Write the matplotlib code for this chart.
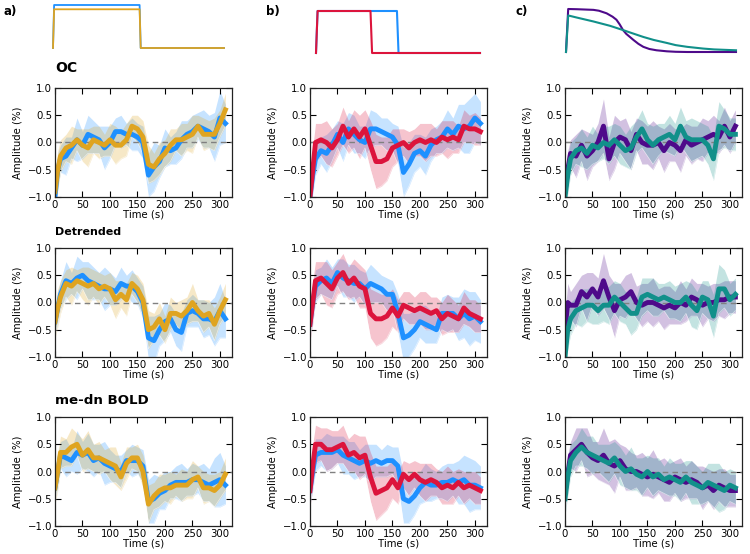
import matplotlib
matplotlib.use("Agg")
import matplotlib.pyplot as plt

# ---------------- data ----------------
T = [0, 5, 10, 20, 30, 40, 50, 60, 70, 80, 90, 100, 110, 120, 130, 140, 150, 160,
     170, 180, 190, 200, 210, 220, 230, 240, 250, 260, 270, 280, 290, 300, 310]

a_oc_blue = [-1.0, -0.5, -0.3, -0.25, -0.1, 0.05, -0.05, 0.15, 0.1, 0.05, -0.1, 0.0, 0.2, 0.2, 0.15, 0.15, 0.1, 0.0, -0.6, -0.45, -0.35, -0.1, -0.15, -0.1, 0.05, 0.15, 0.2, 0.3, 0.25, 0.2, 0.1, 0.45, 0.35]
a_oc_orange = [-0.9, -0.5, -0.25, -0.1, -0.05, 0.05, -0.05, -0.1, 0.05, 0.0, -0.05, 0.05, -0.05, -0.05, 0.05, 0.3, 0.25, 0.1, -0.4, -0.45, -0.3, -0.2, -0.05, 0.05, 0.05, 0.1, 0.15, 0.3, 0.15, 0.15, 0.15, 0.35, 0.6]
a_dt_blue = [-0.35, -0.1, 0.15, 0.4, 0.35, 0.45, 0.5, 0.4, 0.35, 0.3, 0.25, 0.25, 0.2, 0.35, 0.3, 0.3, 0.2, 0.0, -0.65, -0.7, -0.5, -0.35, -0.3, -0.5, -0.55, -0.2, -0.15, -0.2, -0.3, -0.3, -0.35, -0.15, -0.3]
a_dt_orange = [-0.35, -0.1, 0.1, 0.35, 0.3, 0.4, 0.35, 0.3, 0.35, 0.25, 0.3, 0.25, 0.05, 0.15, 0.05, 0.35, 0.25, 0.05, -0.5, -0.45, -0.3, -0.5, -0.2, -0.2, -0.25, -0.15, 0.0, -0.15, -0.25, -0.2, -0.4, -0.15, 0.05]
a_me_blue = [-0.3, 0.0, 0.3, 0.25, 0.2, 0.35, 0.3, 0.35, 0.2, 0.25, 0.15, 0.1, 0.05, 0.0, 0.2, 0.2, 0.2, 0.1, -0.55, -0.5, -0.4, -0.35, -0.25, -0.2, -0.2, -0.2, -0.15, -0.15, -0.2, -0.25, -0.2, -0.15, -0.25]
a_me_orange = [-0.3, 0.0, 0.35, 0.35, 0.45, 0.5, 0.3, 0.4, 0.25, 0.25, 0.2, 0.15, 0.1, -0.1, 0.15, 0.25, 0.25, 0.0, -0.6, -0.45, -0.35, -0.3, -0.3, -0.25, -0.25, -0.25, -0.15, -0.1, -0.3, -0.3, -0.35, -0.25, -0.05]

b_oc_blue = [-1.0, -0.6, -0.3, -0.15, -0.2, -0.05, 0.15, 0.0, 0.25, 0.15, 0.05, 0.0, 0.25, 0.25, 0.2, 0.15, 0.1, -0.05, -0.55, -0.4, -0.2, -0.15, -0.25, -0.05, 0.05, 0.1, 0.25, 0.15, 0.3, 0.25, 0.3, 0.45, 0.35]
b_oc_red = [-1.0, -0.5, 0.0, 0.05, 0.0, -0.1, 0.05, 0.3, 0.1, 0.25, 0.1, 0.25, -0.05, -0.35, -0.35, -0.3, -0.1, -0.05, 0.0, -0.1, 0.0, 0.05, 0.0, 0.05, 0.0, 0.1, 0.05, 0.1, 0.05, 0.3, 0.25, 0.25, 0.2]
b_dt_blue = [-0.4, 0.0, 0.3, 0.4, 0.45, 0.35, 0.55, 0.45, 0.4, 0.35, 0.35, 0.25, 0.35, 0.3, 0.25, 0.15, 0.15, -0.2, -0.65, -0.6, -0.5, -0.35, -0.4, -0.45, -0.5, -0.2, -0.2, -0.2, -0.3, -0.2, -0.3, -0.25, -0.35]
b_dt_red = [-0.4, 0.0, 0.4, 0.45, 0.35, 0.25, 0.45, 0.55, 0.35, 0.45, 0.3, 0.25, -0.2, -0.3, -0.3, -0.25, -0.1, -0.25, -0.05, -0.1, -0.15, -0.1, -0.15, -0.2, -0.15, -0.3, -0.2, -0.25, -0.3, -0.1, -0.2, -0.25, -0.3]
b_me_blue = [-0.35, 0.0, 0.3, 0.35, 0.35, 0.35, 0.4, 0.3, 0.25, 0.2, 0.15, 0.2, 0.15, 0.2, 0.15, 0.2, 0.2, 0.1, -0.5, -0.55, -0.45, -0.3, -0.2, -0.25, -0.25, -0.2, -0.2, -0.15, -0.2, -0.15, -0.25, -0.25, -0.3]
b_me_red = [-0.35, 0.1, 0.5, 0.5, 0.4, 0.4, 0.45, 0.5, 0.3, 0.35, 0.25, 0.3, -0.1, -0.4, -0.35, -0.3, -0.15, -0.3, -0.05, -0.15, -0.05, -0.15, -0.2, -0.15, -0.2, -0.3, -0.25, -0.3, -0.2, -0.3, -0.25, -0.3, -0.35]

c_oc_purple = [-0.9, -0.5, -0.2, -0.25, -0.05, -0.25, -0.15, 0.0, 0.3, -0.3, 0.0, 0.1, 0.05, -0.15, 0.15, 0.0, -0.05, -0.05, 0.0, -0.15, 0.0, -0.05, -0.15, 0.05, -0.05, 0.0, 0.05, 0.1, 0.15, 0.1, 0.3, 0.1, 0.3]
c_oc_teal = [-1.0, -0.6, -0.3, -0.15, -0.1, -0.2, -0.05, -0.1, 0.0, -0.05, 0.05, -0.05, -0.15, -0.1, 0.1, 0.25, 0.05, -0.05, 0.05, 0.1, 0.15, 0.05, 0.3, 0.1, 0.05, 0.05, 0.05, -0.05, -0.3, 0.3, 0.25, 0.15, 0.15]
c_dt_purple = [-0.5, 0.0, -0.05, -0.05, 0.2, 0.1, 0.25, 0.1, 0.4, 0.1, -0.15, 0.05, 0.1, 0.2, 0.0, -0.05, 0.0, 0.0, -0.05, -0.1, -0.05, -0.1, 0.0, -0.05, 0.1, 0.05, -0.05, 0.0, 0.0, 0.05, 0.05, 0.1, 0.1]
c_dt_teal = [-1.0, -0.5, -0.3, -0.15, -0.1, -0.05, -0.05, -0.15, -0.05, -0.05, 0.1, 0.0, -0.1, -0.2, -0.2, 0.1, 0.15, 0.1, 0.05, 0.1, 0.05, 0.0, 0.0, 0.1, -0.05, -0.15, 0.1, 0.05, -0.25, 0.25, 0.25, 0.05, 0.15]
c_me_purple = [-0.4, -0.05, 0.3, 0.4, 0.5, 0.35, 0.25, 0.2, 0.3, 0.15, 0.1, 0.2, 0.05, 0.0, 0.0, -0.05, -0.1, -0.05, -0.1, -0.15, -0.2, -0.1, -0.15, -0.2, -0.15, -0.2, -0.3, -0.25, -0.35, -0.25, -0.3, -0.35, -0.35]
c_me_teal = [-0.5, -0.1, 0.2, 0.35, 0.45, 0.35, 0.3, 0.25, 0.2, 0.15, 0.25, 0.1, 0.0, 0.05, -0.05, -0.1, 0.0, -0.1, -0.05, -0.15, -0.1, -0.15, -0.2, -0.1, -0.2, -0.25, -0.3, -0.2, -0.25, -0.3, -0.35, -0.25, -0.3]

# half-widths of the shaded spread bands
band_a_blue = [0.2, 0.3, 0.25, 0.35, 0.2, 0.4, 0.25, 0.35, 0.3, 0.25, 0.4, 0.3, 0.25, 0.3, 0.2, 0.3, 0.25, 0.3, 0.4, 0.45, 0.3, 0.35, 0.25, 0.3, 0.35, 0.25, 0.3, 0.25, 0.35, 0.3, 0.45, 0.5, 0.35]
band_a_orange = [0.3, 0.35, 0.3, 0.25, 0.35, 0.2, 0.3, 0.35, 0.25, 0.3, 0.2, 0.3, 0.35, 0.25, 0.3, 0.2, 0.25, 0.3, 0.35, 0.25, 0.3, 0.25, 0.3, 0.2, 0.3, 0.25, 0.35, 0.2, 0.3, 0.25, 0.3, 0.25, 0.3]
band_b_blue = [0.25, 0.35, 0.3, 0.25, 0.35, 0.3, 0.25, 0.35, 0.3, 0.35, 0.25, 0.3, 0.35, 0.3, 0.25, 0.3, 0.25, 0.35, 0.45, 0.4, 0.35, 0.3, 0.35, 0.3, 0.25, 0.3, 0.35, 0.3, 0.4, 0.45, 0.5, 0.45, 0.4]
band_b_red = [0.3, 0.4, 0.35, 0.3, 0.4, 0.35, 0.3, 0.35, 0.3, 0.35, 0.4, 0.35, 0.45, 0.5, 0.45, 0.4, 0.35, 0.3, 0.25, 0.3, 0.25, 0.3, 0.35, 0.3, 0.25, 0.3, 0.35, 0.3, 0.25, 0.3, 0.25, 0.3, 0.25]
band_c_purple = [0.3, 0.35, 0.25, 0.4, 0.3, 0.45, 0.3, 0.35, 0.5, 0.4, 0.5, 0.3, 0.4, 0.35, 0.3, 0.4, 0.35, 0.45, 0.3, 0.4, 0.35, 0.3, 0.4, 0.3, 0.35, 0.3, 0.4, 0.3, 0.35, 0.3, 0.35, 0.3, 0.3]
band_c_teal = [0.3, 0.35, 0.3, 0.25, 0.35, 0.3, 0.35, 0.25, 0.3, 0.35, 0.3, 0.35, 0.3, 0.4, 0.3, 0.35, 0.3, 0.35, 0.3, 0.25, 0.35, 0.3, 0.35, 0.3, 0.4, 0.35, 0.3, 0.35, 0.4, 0.45, 0.35, 0.3, 0.3]

# stimulus models (top row)
stim_a_t = [0, 2, 157, 159, 310]
stim_a_blue = [0, 1.0, 1.0, 0, 0]
stim_a_orange = [0, 0.9, 0.9, 0, 0]
stim_b_t_blue = [0, 3, 153, 156, 310]
stim_b_blue = [0, 1.0, 1.0, 0, 0]
stim_b_t_red = [0, 3, 103, 106, 310]
stim_b_red = [0, 1.0, 1.0, 0, 0]
stim_c_t_purple = [0, 4, 20, 40, 50, 60, 74, 85, 92, 98, 104, 110, 123, 132, 141, 152, 165, 184, 200, 221, 310]
stim_c_purple = [0, 1.0, 0.995, 0.985, 0.98, 0.96, 0.9, 0.82, 0.75, 0.64, 0.51, 0.42, 0.28, 0.19, 0.12, 0.07, 0.04, 0.016, 0.005, 0.0, 0.0]
stim_c_t_teal = [0, 4, 20, 50, 80, 104, 120, 141, 160, 184, 200, 221, 250, 270, 290, 310]
stim_c_teal = [0, 0.85, 0.8, 0.71, 0.61, 0.51, 0.44, 0.35, 0.28, 0.21, 0.16, 0.12, 0.08, 0.06, 0.05, 0.04]

xticks = [0, 50, 100, 150, 200, 250, 300]
yticks = [-1.0, -0.5, 0.0, 0.5, 1.0]
row_titles = ["OC", "Detrended", "me-dn BOLD"]
panel_labels = ["a)", "b)", "c)"]

BLUE = "#1e90ff"
ORANGE = "#dfa420"
RED = "#dc143c"
PURPLE = "#4e0a8a"
TEAL = "#11908a"

# ---------------- layout ----------------
W, H = 750, 554
fig = plt.figure(figsize=(W / 100, H / 100), dpi=100)
fig.patch.set_facecolor("white")

def px_axes(x0, y0, x1, y1):
    return fig.add_axes([x0 / W, 1 - y1 / H, (x1 - x0) / W, (y1 - y0) / H])

col_x = [(55, 232), (310, 487), (565, 742)]
row_y = [(88, 197), (248, 357), (417, 526)]

columns = [
    [(a_oc_blue, band_a_blue, BLUE, a_oc_orange, band_a_orange, ORANGE),
     (a_dt_blue, band_a_blue, BLUE, a_dt_orange, band_a_orange, ORANGE),
     (a_me_blue, band_a_blue, BLUE, a_me_orange, band_a_orange, ORANGE)],
    [(b_oc_blue, band_b_blue, BLUE, b_oc_red, band_b_red, RED),
     (b_dt_blue, band_b_blue, BLUE, b_dt_red, band_b_red, RED),
     (b_me_blue, band_b_blue, BLUE, b_me_red, band_b_red, RED)],
    [(c_oc_purple, band_c_purple, PURPLE, c_oc_teal, band_c_teal, TEAL),
     (c_dt_purple, band_c_purple, PURPLE, c_dt_teal, band_c_teal, TEAL),
     (c_me_purple, band_c_purple, PURPLE, c_me_teal, band_c_teal, TEAL)],
]

FS = 7.3
for ci, (x0, x1) in enumerate(col_x):
    for ri, (y0, y1) in enumerate(row_y):
        ax = px_axes(x0, y0, x1, y1)
        m1, b1, c1, m2, b2, c2 = columns[ci][ri]
        lo1 = [m - b for m, b in zip(m1, b1)]
        hi1 = [m + b for m, b in zip(m1, b1)]
        lo2 = [m - b for m, b in zip(m2, b2)]
        hi2 = [m + b for m, b in zip(m2, b2)]
        ax.fill_between(T, lo1, hi1, color=c1, alpha=0.25, lw=0)
        ax.fill_between(T, lo2, hi2, color=c2, alpha=0.25, lw=0)
        ax.plot(T, lo1, color="white", lw=0.5, alpha=0.6)
        ax.plot(T, lo2, color="white", lw=0.5, alpha=0.6)
        ax.axhline(0, color="#808080", ls="--", lw=1.0, dashes=(4, 3))
        ax.plot(T, m1, color=c1, lw=3.5, solid_joinstyle="round")
        ax.plot(T, m2, color=c2, lw=3.5, solid_joinstyle="round")
        ax.set_xlim(0, 322)
        ax.set_ylim(-1.0, 1.0)
        ax.set_xticks(xticks)
        ax.set_yticks(yticks)
        ax.set_yticklabels(["\u22121.0", "\u22120.5", "0.0", "0.5", "1.0"])
        ax.tick_params(direction="in", top=True, right=True, length=4,
                       width=0.8, labelsize=FS, pad=2)
        for s in ax.spines.values():
            s.set_linewidth(0.9)
            s.set_color("#222222")
        ax.set_xlabel("Time (s)", fontsize=FS, labelpad=0)
        ax.set_ylabel("Amplitude (%)", fontsize=FS, labelpad=3)

# row titles
for title, ty, fs in zip(row_titles, [68, 232, 401], [10, 8, 9.6]):
    fig.text(55 / W, 1 - ty / H, title, fontsize=fs,
             fontweight="bold", ha="left", va="center")

# panel labels
for lab, lx in zip(panel_labels, [3, 266, 516]):
    fig.text(lx / W, 1 - 11 / H, lab, fontsize=8.5, fontweight="bold",
             ha="left", va="center")

# stimulus sketches
sa = px_axes(53, 5, 224, 48)
sa.plot(stim_a_t, stim_a_blue, color=BLUE, lw=1.3, clip_on=False)
sa.plot(stim_a_t, stim_a_orange, color=ORANGE, lw=1.3, clip_on=False)
sb = px_axes(316, 11, 480, 53)
sb.plot(stim_b_t_blue, stim_b_blue, color=BLUE, lw=1.5, clip_on=False)
sb.plot(stim_b_t_red, stim_b_red, color=RED, lw=1.5, clip_on=False)
sc = px_axes(566, 9, 736, 52)
sc.plot(stim_c_t_purple, stim_c_purple, color=PURPLE, lw=1.5, clip_on=False)
sc.plot(stim_c_t_teal, stim_c_teal, color=TEAL, lw=1.5, clip_on=False)
for s in (sa, sb, sc):
    s.set_xlim(0, 310)
    s.set_ylim(0, 1)
    s.axis("off")

fig.savefig("out.png", dpi=100, facecolor="white")
